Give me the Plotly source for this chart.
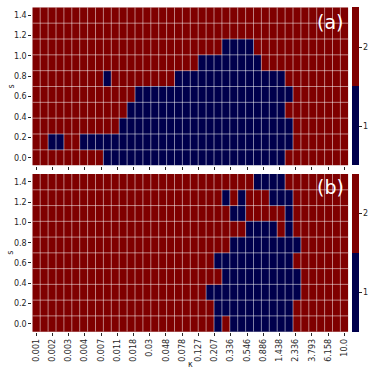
import numpy as np
import plotly.graph_objects as go

# ---------------- data ----------------
kappa_tick_labels = ["0.001", "0.002", "0.003", "0.004", "0.007", "0.011", "0.018", "0.03",
                     "0.048", "0.078", "0.127", "0.207", "0.336", "0.546", "0.886", "1.438",
                     "2.336", "3.793", "6.158", "10.0"]
n_kappa = 40
s_values = [0.0, 0.156, 0.311, 0.467, 0.622, 0.778, 0.933, 1.089, 1.244, 1.4]
s_ticks = [0.0, 0.2, 0.4, 0.6, 0.8, 1.0, 1.2, 1.4]
state_ticks = [1, 2]

# run-length encoded rows (value, count), from s=0.0 (bottom) to s=1.4 (top)
panel_a_runs = [
    [(2, 9), (1, 23), (2, 8)],
    [(2, 2), (1, 2), (2, 2), (1, 27), (2, 7)],
    [(2, 11), (1, 22), (2, 7)],
    [(2, 12), (1, 20), (2, 8)],
    [(2, 13), (1, 20), (2, 7)],
    [(2, 9), (1, 1), (2, 8), (1, 14), (2, 8)],
    [(2, 21), (1, 8), (2, 11)],
    [(2, 24), (1, 4), (2, 12)],
    [(2, 40)],
    [(2, 40)],
]
panel_b_runs = [
    [(2, 23), (1, 1), (2, 1), (1, 8), (2, 7)],
    [(2, 23), (1, 10), (2, 7)],
    [(2, 22), (1, 12), (2, 6)],
    [(2, 24), (1, 10), (2, 6)],
    [(2, 23), (1, 10), (2, 7)],
    [(2, 25), (1, 9), (2, 6)],
    [(2, 27), (1, 4), (2, 1), (1, 1), (2, 7)],
    [(2, 25), (1, 2), (2, 5), (1, 1), (2, 7)],
    [(2, 24), (1, 1), (2, 1), (1, 1), (2, 3), (1, 3), (2, 7)],
    [(2, 28), (1, 4), (2, 8)],
]


def expand(runs):
    z = []
    for row in runs:
        r = []
        for v, c in row:
            r += [v] * c
        assert len(r) == n_kappa
        z.append(r)
    return z


z_a = expand(panel_a_runs)
z_b = expand(panel_b_runs)

# ---------------- styling ----------------
BLUE = "#00004c"
RED = "#7f0000"
cscale = [[0, BLUE], [0.5, BLUE], [0.5, RED], [1, RED]]
FONT = "DejaVu Sans"
TXT = "#262626"
W = H = 374

x_pos = list(range(n_kappa))
x_dom = [32.3 / W, 348.3 / W]
dom_a = [1 - 165.7 / H, 1 - 7.3 / H]
dom_b = [1 - 331.7 / H, 1 - 174.0 / H]

ds = s_values[1] - s_values[0]
y_lo = s_values[0] - ds / 2
y_hi = s_values[-1] + ds / 2


def cbar(dom):
    return dict(x=352 / W, xanchor="left", thickness=7, lenmode="fraction",
                len=dom[1] - dom[0], y=(dom[0] + dom[1]) / 2, yanchor="middle",
                tickvals=state_ticks, ticktext=[str(t) for t in state_ticks],
                ticks="outside", ticklen=3, tickcolor=TXT,
                tickfont=dict(size=8, color=TXT, family=FONT),
                outlinewidth=0, xpad=0, ypad=0)


fig = go.Figure()
fig.add_trace(go.Heatmap(z=z_a, x=x_pos, y=s_values, colorscale=cscale, zmin=0.5, zmax=2.5,
                         xaxis="x", yaxis="y", colorbar=cbar(dom_a), showscale=True,
                         hoverinfo="skip"))
fig.add_trace(go.Heatmap(z=z_b, x=x_pos, y=s_values, colorscale=cscale, zmin=0.5, zmax=2.5,
                         xaxis="x2", yaxis="y2", colorbar=cbar(dom_b), showscale=True,
                         hoverinfo="skip"))

# cell boundary lines (semi-transparent white)
shapes = []
line_style = dict(color="rgba(255,255,255,0.5)", width=1)
for xr, yr in (("x", "y"), ("x2", "y2")):
    for i in range(1, n_kappa):
        shapes.append(dict(type="line", xref=xr, yref=yr, x0=i - 0.5, x1=i - 0.5,
                           y0=y_lo, y1=y_hi, line=line_style, layer="above"))
    for j in range(1, len(s_values)):
        yb = (s_values[j - 1] + s_values[j]) / 2
        shapes.append(dict(type="line", xref=xr, yref=yr, x0=-0.5, x1=n_kappa - 0.5,
                           y0=yb, y1=yb, line=line_style, layer="above"))

tickvals_x = list(np.linspace(0, n_kappa - 1, len(kappa_tick_labels)))

xcommon = dict(domain=x_dom, range=[-0.5, n_kappa - 0.5], tickvals=tickvals_x,
               ticktext=kappa_tick_labels, ticks="outside", ticklen=3, tickcolor=TXT,
               showgrid=False, zeroline=False, showline=False,
               tickfont=dict(size=8, color=TXT, family=FONT), automargin=False)
ycommon = dict(range=[y_lo, y_hi], tickvals=s_ticks, ticktext=[f"{v:.1f}" for v in s_ticks],
               ticks="outside", ticklen=3, tickcolor=TXT, showgrid=False, zeroline=False,
               showline=False, tickfont=dict(size=8, color=TXT, family=FONT), automargin=False)

fig.update_layout(
    width=W, height=H, margin=dict(l=0, r=0, t=0, b=0, autoexpand=False),
    paper_bgcolor="white", plot_bgcolor="white",
    font=dict(family=FONT, size=8, color=TXT),
    xaxis=dict(**xcommon, anchor="y", showticklabels=False),
    yaxis=dict(**ycommon, domain=dom_a, anchor="x"),
    xaxis2=dict(**xcommon, anchor="y2", showticklabels=True, tickangle=-90),
    yaxis2=dict(**ycommon, domain=dom_b, anchor="x2"),
    shapes=shapes,
    annotations=[
        dict(text="(a)", x=330 / W, y=1 - 22 / H, xref="paper", yref="paper", showarrow=False,
             font=dict(size=19, color="white", family=FONT), xanchor="center", yanchor="middle"),
        dict(text="(b)", x=330 / W, y=1 - 187 / H, xref="paper", yref="paper", showarrow=False,
             font=dict(size=19, color="white", family=FONT), xanchor="center", yanchor="middle"),
        dict(text="s", x=11 / W, y=(dom_a[0] + dom_a[1]) / 2, xref="paper", yref="paper",
             showarrow=False, textangle=-90, xanchor="center", yanchor="middle",
             font=dict(size=8, color=TXT, family=FONT)),
        dict(text="s", x=11 / W, y=(dom_b[0] + dom_b[1]) / 2, xref="paper", yref="paper",
             showarrow=False, textangle=-90, xanchor="center", yanchor="middle",
             font=dict(size=8, color=TXT, family=FONT)),
        dict(text="κ", x=(x_dom[0] + x_dom[1]) / 2, y=1 - 364 / H, xref="paper", yref="paper",
             showarrow=False, xanchor="center", yanchor="middle",
             font=dict(size=8, color=TXT, family=FONT)),
    ],
)

fig.write_html("out.html", config={"displayModeBar": False},
               post_script="document.body.style.margin='0px';")
